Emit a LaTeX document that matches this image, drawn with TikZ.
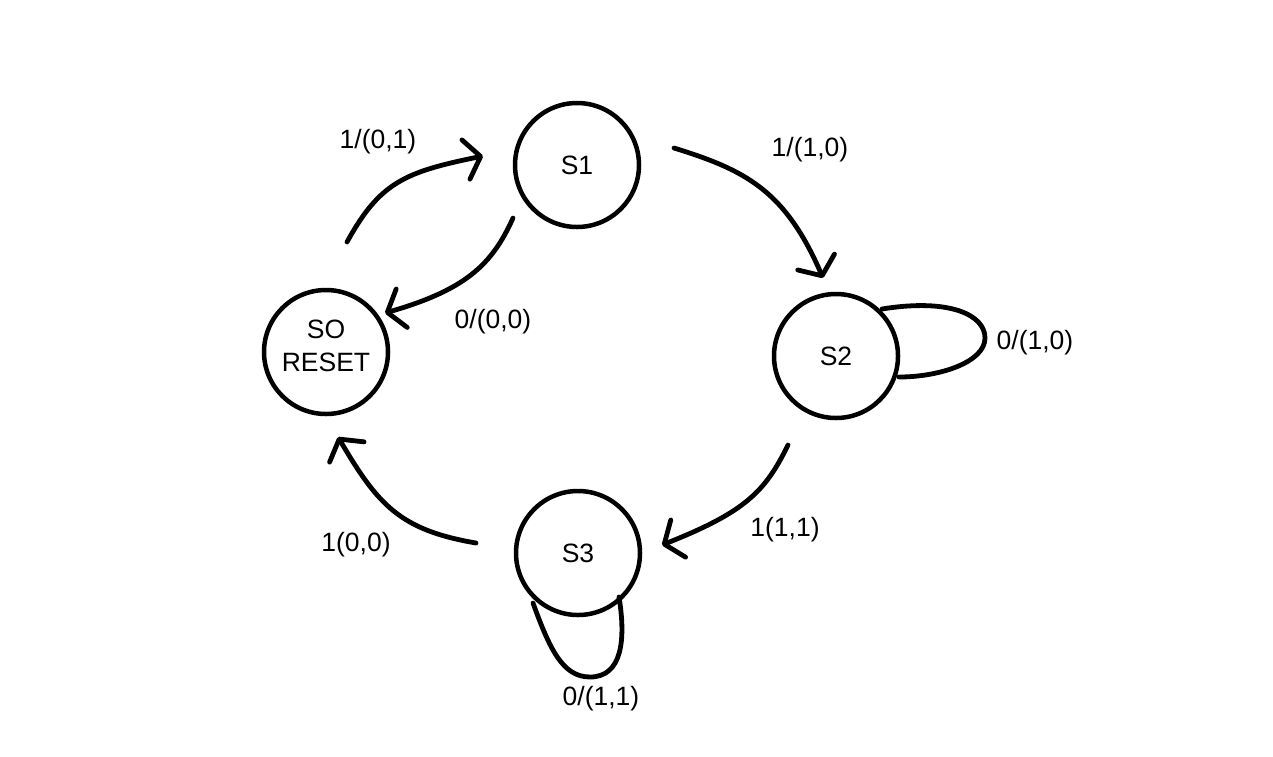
\documentclass[tikz,border=0pt]{standalone}
\usepackage{fontspec}
\setmainfont{Liberation Sans}
\usetikzlibrary{arrows.meta}
\begin{document}
\begin{tikzpicture}[x=1pt,y=-1pt,
  state/.style={circle,draw,line width=4.5pt,minimum size=124pt,inner sep=0pt,font=\fontsize{26.5}{33}\selectfont,align=center},
  lbl/.style={font=\fontsize{26.5}{31}\selectfont,inner sep=0pt},
  edge/.style={line width=4.8pt,line cap=round,-{Straight Barb[length=15pt,width=40pt,round]}},
  loop/.style={line width=4.8pt,line cap=round}]
\useasboundingbox (0,0) rectangle (1273,756);
\node[state] (s0) at (326,352) {};
\node[lbl,align=center,font=\fontsize{26.5}{33}\selectfont] (s0t) at (326,346) {SO\\RESET};
\node[state] (s1) at (577,165) {S1};
\node[state] (s2) at (836,356) {S2};
\node[state] (s3) at (578,553) {S3};
% connector end points
\coordinate (a0) at (347,242); \coordinate (a1) at (483,156);
\coordinate (b0) at (674,148); \coordinate (b1) at (823,278);
\coordinate (c0) at (513,218); \coordinate (c1) at (385,313);
\coordinate (d0) at (788,445); \coordinate (d1) at (662,545);
\coordinate (e0) at (476,543); \coordinate (e1) at (338,437);
\coordinate (f0) at (882,309); \coordinate (f1) at (985,338); \coordinate (f2) at (899,377);
\coordinate (g0) at (533,603); \coordinate (g1) at (590,677); \coordinate (g2) at (619,597);
\draw[edge] (a0) .. controls (380,182) and (405,172) .. (a1);
\draw[edge] (b0) .. controls (745,170) and (785,190) .. (b1);
\draw[edge] (c0) .. controls (492,265) and (465,290) .. (c1);
\draw[edge] (d0) .. controls (765,492) and (745,512) .. (d1);
\draw[edge] (e0) .. controls (400,530) and (378,505) .. (e1);
\draw[loop] (f0) .. controls (950,298) and (985,315) .. (f1) .. controls (985,362) and (940,377) .. (f2);
\draw[loop] (g0) .. controls (550,650) and (563,677) .. (g1) .. controls (622,677) and (626,640) .. (g2);
% labels
\node[lbl] (l1) at (378,142) {1/(0,1)};
\node[lbl] (l2) at (810,150) {1/(1,0)};
\node[lbl] (l3) at (493,322) {0/(0,0)};
\node[lbl] (l4) at (1035,343) {0/(1,0)};
\node[lbl] (l5) at (785,530) {1(1,1)};
\node[lbl] (l6) at (356,545) {1(0,0)};
\node[lbl] (l7) at (601,699) {0/(1,1)};
\end{tikzpicture}
\end{document}
